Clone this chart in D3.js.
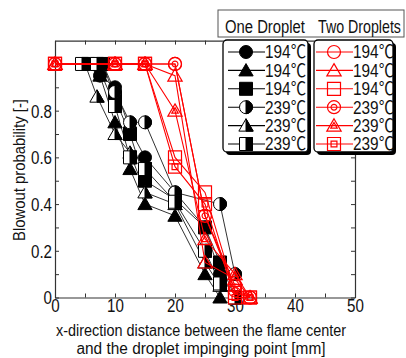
<!DOCTYPE html>
<html><head><meta charset="utf-8">
<script src="https://cdn.jsdelivr.net/npm/d3@7"></script>
<style>
body{margin:0;background:#fff}
svg{display:block}
text{font-family:"Liberation Sans",Arial,"Noto Sans CJK JP",sans-serif;fill:#111}
</style>
</head><body>
<svg id="c" width="406" height="358"></svg>
<script>
// ---- data ----
const xTickValues = [0,5,10,15,20,25,30,35,40,45,50];
const xTickLabels = [0,10,20,30,40,50];
const yTickValues = [0,0.1,0.2,0.3,0.4,0.5,0.6,0.7,0.8,0.9,1.0];
const yTickLabels = [0,0.2,0.4,0.6,0.8];
const groupTitles = ["One Droplet","Two Droplets"];
const oneLabels = ["194\u2103","194\u2103","194\u2103","239\u2103","239\u2103","239\u2103"];
const twoLabels = ["194\u2103","194\u2103","194\u2103","239\u2103","239\u2103","239\u2103"];
const shapes = ["circle","triangle","square","circle","triangle","square"];
const oneStyles = ["filled","filled","filled","half","half","half"];
const twoStyles = ["open","open","open","double","double","double"];

// One droplet series [x mm, probability]
const one194Circle   = [[5,1],[7.5,0.95],[10,0.9],[12.5,0.72],[15,0.6],[20,0.45],[25,0.3],[27.5,0.1],[30,0]];
const one194Triangle = [[5,1],[7.5,0.95],[10,0.75],[12.5,0.55],[15,0.4],[20,0.35],[25,0.1],[27.5,0]];
const one194Square   = [[5.5,1],[8,1],[10,0.85],[12.5,0.7],[15,0.5],[20,0.42],[25,0.3],[27.5,0.15],[30,0]];
const one239Circle   = [[8,1],[10,0.88],[12.5,0.75],[15,0.75],[20,0.45],[27.5,0.4],[30,0.1]];
const one239Triangle = [[5,1],[7,0.86],[10,0.7],[12.5,0.62],[15,0.45],[20,0.4],[25,0.15],[27.5,0.05],[30,0]];
const one239Square   = [[4.5,1],[7,1],[10,0.82],[12.5,0.6],[15,0.55],[20,0.41],[25,0.2],[27.5,0.06],[30,0]];
// Two droplets series
const two194Circle   = [[0,1],[10,1],[15,1],[20,1],[25,0.35],[30,0.05],[32.5,0]];
const two194Triangle = [[0,1],[10,1],[15,1],[20,0.95],[25,0.15],[30,0.08],[32.5,0]];
const two194Square   = [[0,1],[10,1],[15,1],[20,0.6],[25,0.45],[30,0.02],[32.5,0]];
const two239Circle   = [[0,1],[10,1],[15,1],[20,1],[25,0.35],[30,0.03],[32.5,0]];
const two239Triangle = [[0,1],[10,1],[15,1],[20,0.8],[25,0.25],[30,0.1],[32.5,0]];
const two239Square   = [[0,1],[10,1],[15,1],[20,0.56],[25,0.4],[30,0],[32.5,0]];

const oneSeries = [one194Circle,one194Triangle,one194Square,one239Circle,one239Triangle,one239Square];
const twoSeries = [two194Circle,two194Triangle,two194Square,two239Circle,two239Triangle,two239Square];

// ---- chart ----
const svg = d3.select("#c");
const L=55, R=355, T=40.6, B=297.5;
const x = d3.scaleLinear().domain([0,50]).range([L,R]);
const y = d3.scaleLinear().domain([0,1.1]).range([B,T]);
const AX = "#333";

function condense(sel, f){ sel.each(function(){ const w=this.getComputedTextLength(); d3.select(this).attr("textLength", w*f).attr("lengthAdjust","spacingAndGlyphs"); }); }

// axes
const fmtX = d => xTickLabels.includes(d) ? String(d) : "";
const fmtY = d => yTickLabels.some(v=>Math.abs(v-d)<1e-9) ? (d===0?"0":d3.format(".1f")(d)) : "";
const gB = svg.append("g").attr("transform",`translate(0,${B})`)
  .call(d3.axisBottom(x).tickValues(xTickValues).tickFormat(fmtX).tickSizeInner(-4).tickSizeOuter(0).tickPadding(2));
const gT = svg.append("g").attr("transform",`translate(0,${T})`)
  .call(d3.axisTop(x).tickValues(xTickValues).tickFormat("").tickSizeInner(-4).tickSizeOuter(0));
const gL = svg.append("g").attr("transform",`translate(${L},0)`)
  .call(d3.axisLeft(y).tickValues(yTickValues).tickFormat(fmtY).tickSizeInner(-4).tickSizeOuter(0).tickPadding(3));
const gR = svg.append("g").attr("transform",`translate(${R},0)`)
  .call(d3.axisRight(y).tickValues(yTickValues).tickFormat("").tickSizeInner(-4).tickSizeOuter(0));
[gB,gT,gL,gR].forEach(g=>{
  g.selectAll("path.domain").attr("stroke",AX).attr("stroke-width",1.2);
  g.selectAll(".tick line").attr("stroke",AX);
  g.selectAll("text").style("font-family",'"Liberation Sans",Arial,sans-serif').style("font-size","18px").attr("fill","#111");
});
condense(gB.selectAll("text"),0.84);
condense(gL.selectAll("text"),0.84);
gL.selectAll(".tick text").attr("dy","0.36em");

// markers
function shapePath(shape, s){
  if(shape==="circle") return `M${-s},0A${s},${s} 0 1,1 ${s},0A${s},${s} 0 1,1 ${-s},0Z`;
  if(shape==="square") return `M${-s},${-s}H${s}V${s}H${-s}Z`;
  const h=s*1.05, w=s*1.1, b=s*0.85;
  return `M0,${-h}L${w},${b}H${-w}Z`;
}
function halfPath(shape, s){
  if(shape==="circle") return `M0,${-s}A${s},${s} 0 0,1 0,${s}Z`;
  if(shape==="square") return `M0,${-s}H${s}V${s}H0Z`;
  const h=s*1.05, w=s*1.1, b=s*0.85;
  return `M0,${-h}L${w},${b}H0Z`;
}
function drawMarker(g, shape, style){
  const s = 6.5;
  if(style==="filled"){
    g.append("path").attr("d",shapePath(shape,s)).attr("fill","#000").attr("stroke","#000").attr("stroke-width",1);
  } else if(style==="half"){
    g.append("path").attr("d",shapePath(shape,s)).attr("fill","#fff").attr("stroke","#000").attr("stroke-width",1);
    g.append("path").attr("d",halfPath(shape,s)).attr("fill","#000").attr("stroke","#000").attr("stroke-width",1);
  } else if(style==="open"){
    g.append("path").attr("d",shapePath(shape,s)).attr("fill","none").attr("stroke","#f00").attr("stroke-width",1.2);
  } else {
    g.append("path").attr("d",shapePath(shape,s)).attr("fill","none").attr("stroke","#f00").attr("stroke-width",1.2);
    g.append("path").attr("d",shapePath(shape,s*0.45)).attr("fill","none").attr("stroke","#f00").attr("stroke-width",1.2);
  }
}

const line = d3.line().x(d=>x(d[0])).y(d=>y(d[1]));
const plot = svg.append("g");
oneSeries.forEach(s=> plot.append("path").attr("d",line(s)).attr("fill","none").attr("stroke","#333").attr("stroke-width",1));
oneSeries.forEach((s,i)=> s.forEach(d=> drawMarker(plot.append("g").attr("transform",`translate(${x(d[0])},${y(d[1])})`), shapes[i], oneStyles[i])));
twoSeries.forEach(s=> plot.append("path").attr("d",line(s)).attr("fill","none").attr("stroke","#f00").attr("stroke-width",1.1));
twoSeries.forEach((s,i)=> s.forEach(d=> drawMarker(plot.append("g").attr("transform",`translate(${x(d[0])},${y(d[1])})`), shapes[i], twoStyles[i])));

// axis titles
svg.append("text").attr("transform","translate(25,170) rotate(-90)").attr("text-anchor","middle")
  .style("font-size","17px").attr("textLength",142).attr("lengthAdjust","spacingAndGlyphs").text("Blowout probability [-]");
svg.append("text").attr("x",201).attr("y",336).attr("text-anchor","middle").style("font-size","16px")
  .attr("textLength",290).attr("lengthAdjust","spacingAndGlyphs").text("x-direction distance between the flame center");
svg.append("text").attr("x",201).attr("y",354).attr("text-anchor","middle").style("font-size","16px")
  .attr("textLength",249).attr("lengthAdjust","spacingAndGlyphs").text("and the droplet impinging point [mm]");

// legend
const lg = svg.append("g");
lg.append("rect").attr("x",218).attr("y",10).attr("width",186).attr("height",27).attr("fill","#fff").attr("stroke","#555").attr("stroke-width",1);
function headerText(tx, txt, targetW){
  const t = lg.append("text").attr("x",0).attr("y",0).style("font-size","18px").text(txt);
  const w = t.node().getComputedTextLength();
  t.attr("transform",`translate(${tx},33) scale(${targetW/w},1)`);
}
headerText(225, groupTitles[0], 80);
headerText(318, groupTitles[1], 83);

function legendBox(bx, bw, labels, styles, color, lineX1, lineX2, mX, tX){
  lg.append("rect").attr("x",bx+3).attr("y",43).attr("width",bw).attr("height",112).attr("rx",4).attr("fill","#000");
  lg.append("rect").attr("x",bx).attr("y",40).attr("width",bw).attr("height",112).attr("rx",4).attr("fill","#fff").attr("stroke","#000").attr("stroke-width",1.3);
  labels.forEach((lab,i)=>{
    const yy = 52 + i*18.4;
    lg.append("line").attr("x1",lineX1).attr("x2",lineX2).attr("y1",yy).attr("y2",yy).attr("stroke",color).attr("stroke-width",1.1);
    drawMarker(lg.append("g").attr("transform",`translate(${mX},${yy})`), shapes[i], styles[i]);
    lg.append("text").attr("x",tX).attr("y",yy).attr("dy","0.36em").style("font-size","18px")
      .attr("textLength",41).attr("lengthAdjust","spacingAndGlyphs").text(lab);
  });
}
legendBox(223, 85, oneLabels, oneStyles, "#000", 228, 265, 246, 265);
legendBox(314, 79, twoLabels, twoStyles, "#f00", 316, 353, 334, 353);
</script>
</body></html>
